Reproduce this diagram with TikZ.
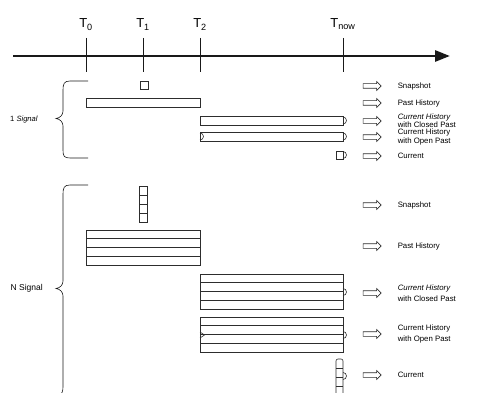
\documentclass[tikz,border=0pt]{standalone}
\usepackage{fontspec}
\setmainfont{Liberation Sans}
\usepackage{tikz}
\usetikzlibrary{positioning,arrows.meta,shapes.arrows}
\definecolor{timeink}{RGB}{25,25,25}
\definecolor{barink}{RGB}{45,45,45}

% block of four rows: x1,y1,x2,y2
\newcommand\rowblock[4]{%
  \draw[bar] (#1,#2) rectangle (#3,#4);
  \foreach \k in {1,2,3}{
    \draw[bar] (#1,{#2+\k*(#4-#2)/4}) -- (#3,{#2+\k*(#4-#2)/4});
  }
}

\begin{document}
\begin{tikzpicture}[x=1pt,y=-1pt,
  tick/.style={draw=timeink,line width=0.5pt},
  tlabel/.style={font=\fontsize{13}{15}\selectfont,inner sep=0pt,anchor=base},
  bar/.style={draw=barink,line width=0.6pt},
  openarrow/.style={single arrow,draw=barink,line width=0.6pt,inner xsep=0pt,inner ysep=2pt,
    minimum height=18pt,single arrow head extend=2.2pt,single arrow head indent=0pt},
  rowlabel/.style={font=\fontsize{7.8}{8.2}\selectfont,align=left,inner sep=0pt},
  rowlabelN/.style={font=\fontsize{7.8}{11}\selectfont,align=left,inner sep=0pt},
  grouplabel/.style={inner sep=0pt,anchor=east},
  dcap/.pic={\draw[bar] (0,-3.5) arc[start angle=-90,end angle=90,radius=3.5];},
  ltri/.pic={\draw[bar] (0,-3) -- (4.5,0) -- (0,3);}]
  \useasboundingbox (0,0) rectangle (484,393);

  % time axis
  \coordinate (axstart) at (13,56);
  \coordinate (axend) at (450,56);
  \draw[timeink,line width=2.8pt,-{Triangle[length=15pt,width=11pt]}] (axstart) -- (axend);
  \foreach \nm/\xx/\sub in {t0/86/0,t1/143/1,t2/200/2,tnow/343/now}{
    \draw[tick] (\xx,38) -- (\xx,72);
    \node[tlabel] (\nm) at (\xx,28) {T\textsubscript{\sub}};
  }

  % one signal
  \draw[bar] (140,81) rectangle (148,89);
  \draw[bar] (86,98) rectangle (200,107);
  \draw[bar] (200,116) rectangle (343,125);
  \pic at (343,120.5) {dcap};
  \draw[bar] (200,132) rectangle (343,141);
  \pic at (200,136.5) {dcap};
  \pic at (343,136.5) {dcap};
  \draw[bar] (336,151) rectangle (343,159);
  \pic at (343,155) {dcap};

  \foreach \nm/\yy/\txt in {sa/86/Snapshot,sb/103/Past History,
    sc/121/{\textit{Current History}\\with Closed Past},
    sd/137/{Current History\\with Open Past},se/156/Current}{
    \node[openarrow] (a\nm) at (371,\yy) {};
    \node[rowlabel,right=16pt of a\nm] (l\nm) {\txt};
  }

  \draw[timeink,line width=0.6pt] (88,81) -- (70,81) .. controls (64,81) and (63,84) .. (63,90)
    -- (63,111) .. controls (63,115) and (60,118) .. (56,118.5)
    .. controls (60,119) and (63,122) .. (63,126) -- (63,150)
    .. controls (63,156) and (64,158) .. (70,158) -- (88,158);
  \node[grouplabel,font=\fontsize{7.6}{8}\selectfont] (one) at (38,120) {1 \textit{Signal}};

  % N signals
  \foreach \k in {0,1,2,3}{
    \draw[bar] (139,{186+\k*9}) rectangle (147,{195+\k*9});
  }
  \rowblock{86}{230}{200}{265}
  \rowblock{200}{274}{343}{309}
  \pic at (343,292) {dcap};
  \rowblock{200}{317}{343}{352}
  \pic at (200,335) {ltri};
  \pic at (343,335) {dcap};
  \draw[bar,rounded corners=2pt] (336,398) -- (336,359) -- (343,359) -- (343,398);
  \foreach \k in {1,2,3,4}{
    \draw[bar] (336,{359+\k*9}) -- (343,{359+\k*9});
  }
  \pic at (343,376) {dcap};

  \foreach \nm/\yy/\txt in {na/205/Snapshot,nb/246/Past History,
    nc/293/{\textit{Current History}\\with Closed Past},
    nd/334/{Current History\\with Open Past},ne/375/Current}{
    \node[openarrow] (a\nm) at (371,\yy) {};
    \node[rowlabelN,right=16pt of a\nm] (l\nm) {\txt};
  }

  \draw[timeink,line width=0.6pt] (88,185) -- (70,185) .. controls (64,185) and (63,188) .. (63,194)
    -- (63,281) .. controls (63,285) and (60,288) .. (56,288.5)
    .. controls (60,289) and (63,292) .. (63,296) -- (63,387)
    .. controls (63,391) and (62,393) .. (60,396);
  \node[grouplabel,font=\fontsize{8.5}{10}\selectfont] (many) at (43,288) {N Signal};
\end{tikzpicture}
\end{document}
